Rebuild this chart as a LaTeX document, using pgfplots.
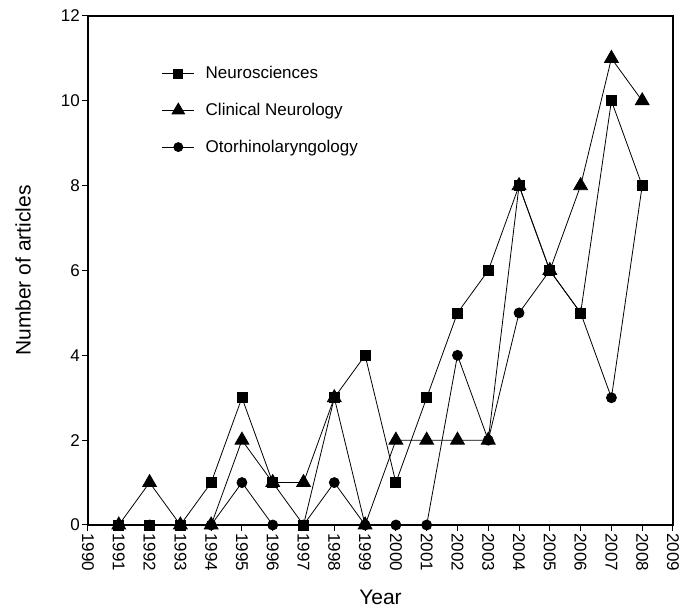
\documentclass[border=0pt]{standalone}
\usepackage{pgfplots}
\pgfplotsset{compat=1.18}
\usetikzlibrary{calc}
\usepackage{fontspec}
\setmainfont{Liberation Sans}
\begin{document}
\begin{tikzpicture}
\begin{axis}[
  scale only axis,
  width=585pt, height=509pt,
  xmin=1990, xmax=2009, ymin=0, ymax=12,
  xtick={1990,...,2009}, ytick={0,2,...,12},
  /pgf/number format/assume math mode=true,
  xticklabel={\pgfmathprintnumber[1000 sep=]{\tick}},
  xticklabel style={rotate=-90, anchor=west, font=\fontsize{17}{19}\selectfont, inner sep=2pt},
  yticklabel style={font=\fontsize{17}{19}\selectfont, inner sep=2pt},
  tick align=outside, tick pos=left,
  major tick length=6pt,
  every tick/.style={black, line width=1pt},
  axis line style={line width=2.5pt},
  xlabel={Year}, ylabel={Number of articles},
  label style={font=\fontsize{21}{24}\selectfont},
  xlabel style={at={(axis description cs:0.5,-0.1415)}, anchor=center},
  ylabel style={at={(axis description cs:-0.111,0.5)}, anchor=center},
  legend style={at={(axis description cs:0.126,0.905)}, anchor=north west, draw=none, fill=none,
    font=\fontsize{17}{20}\selectfont, row sep=19pt, inner sep=0pt,
    /tikz/every odd column/.append style={column sep=9pt}},
  legend cell align=left,
  legend image code/.code={\draw[mark repeat=2,mark phase=2, mark options={scale=0.9}] plot coordinates {(0pt,0pt)(16pt,0pt)(32pt,0pt)};},
  every axis plot/.append style={black, line width=0.8pt, mark options={solid, fill=black}},
  clip=false,
]
\addplot[mark=square*, mark size=5pt] coordinates {
(1991,0)(1992,0)(1993,0)(1994,1)(1995,3)(1996,1)(1997,0)(1998,3)(1999,4)(2000,1)
(2001,3)(2002,5)(2003,6)(2004,8)(2005,6)(2006,5)(2007,10)(2008,8)};
\addlegendentry{Neurosciences}
\addplot[mark=triangle*, mark size=8pt] coordinates {
(1991,0)(1992,1)(1993,0)(1994,0)(1995,2)(1996,1)(1997,1)(1998,3)(1999,0)(2000,2)
(2001,2)(2002,2)(2003,2)(2004,8)(2005,6)(2006,8)(2007,11)(2008,10)};
\addlegendentry{Clinical Neurology}
\addplot[mark=*, mark size=5pt] coordinates {
(1991,0)(1992,0)(1993,0)(1994,0)(1995,1)(1996,0)(1997,0)(1998,1)(1999,0)(2000,0)
(2001,0)(2002,4)(2003,2)(2004,5)(2005,6)(2006,5)(2007,3)(2008,8)};
\addlegendentry{Otorhinolaryngology}
\end{axis}
\pgfresetboundingbox
\path[use as bounding box] ($(current axis.south west)+(-88pt,-84pt)$) rectangle ($(current axis.north east)+(18pt,16pt)$);
\end{tikzpicture}
\end{document}
